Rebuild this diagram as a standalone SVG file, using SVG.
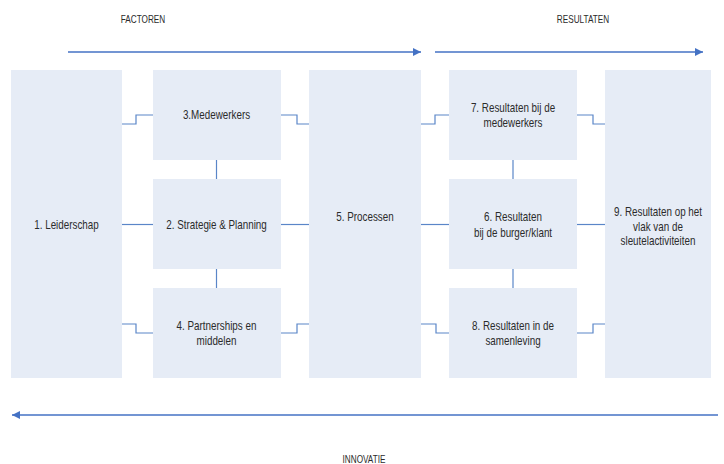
<svg xmlns="http://www.w3.org/2000/svg" width="724" height="464" viewBox="0 0 724 464">
<style>
.box{fill:#E6ECF6;}
.t{font-family:"Liberation Sans",Arial,sans-serif;font-size:12px;fill:#2b2b2b;text-anchor:middle;}
.h{font-family:"Liberation Sans",Arial,sans-serif;font-size:10px;fill:#2b2b2b;text-anchor:middle;}
.c{fill:none;stroke:#5A86C8;stroke-width:1.2;}
.a{fill:none;stroke:#4472C4;stroke-width:1.6;}
</style>
<defs>
<marker id="ah" markerUnits="userSpaceOnUse" markerWidth="9" markerHeight="9" refX="8" refY="4" orient="auto">
<path d="M0,0 L8,4 L0,8 z" fill="#4472C4"/>
</marker>
</defs>
<g id="header-factoren"><text class="h" transform="translate(143,23) scale(0.82,1)">FACTOREN</text></g>
<g id="header-resultaten"><text class="h" transform="translate(583,23) scale(0.82,1)">RESULTATEN</text></g>
<g id="footer-innovatie"><text class="h" transform="translate(364,463) scale(0.82,1)">INNOVATIE</text></g>

<g id="connectors">
<line class="a" x1="68" y1="52" x2="421" y2="52" marker-end="url(#ah)"/>
<line class="a" x1="435" y1="52" x2="703" y2="52" marker-end="url(#ah)"/>
<line class="a" x1="718" y1="415" x2="12" y2="415" marker-end="url(#ah)"/>
<polyline class="c" points="122,124 136,124 136,115 153,115"/>
<polyline class="c" points="281,115 297,115 297,124 309,124"/>
<polyline class="c" points="421,124 435,124 435,115 449,115"/>
<polyline class="c" points="577,115 593,115 593,124 605,124"/>
<line class="c" x1="122" y1="224.5" x2="153" y2="224.5"/>
<line class="c" x1="281" y1="224.5" x2="309" y2="224.5"/>
<line class="c" x1="421" y1="224.5" x2="449" y2="224.5"/>
<line class="c" x1="577" y1="224.5" x2="605" y2="224.5"/>
<polyline class="c" points="122,324 136,324 136,333 153,333"/>
<polyline class="c" points="281,333 297,333 297,324 309,324"/>
<polyline class="c" points="421,324 436,324 436,333 449,333"/>
<polyline class="c" points="577,333 593,333 593,324 605,324"/>
<line class="c" x1="216.5" y1="160" x2="216.5" y2="179"/>
<line class="c" x1="216.5" y1="269" x2="216.5" y2="288"/>
<line class="c" x1="513" y1="160" x2="513" y2="179"/>
<line class="c" x1="513" y1="269" x2="513" y2="288"/>
</g>

<g id="n1"><rect class="box" x="11" y="70" width="111" height="308"/><text class="t" transform="translate(66.5,229) scale(0.82,1)">1. Leiderschap</text></g>
<g id="n3"><rect class="box" x="153" y="70" width="128" height="90"/><text class="t" transform="translate(216.5,119) scale(0.82,1)">3.Medewerkers</text></g>
<g id="n2"><rect class="box" x="153" y="179" width="128" height="90"/><text class="t" transform="translate(216.5,229) scale(0.82,1)">2. Strategie &amp; Planning</text></g>
<g id="n4"><rect class="box" x="153" y="288" width="128" height="90"/><text class="t" transform="translate(216.5,330) scale(0.82,1)">4. Partnerships en</text><text class="t" transform="translate(216.5,345) scale(0.82,1)">middelen</text></g>
<g id="n5"><rect class="box" x="309" y="70" width="112" height="308"/><text class="t" transform="translate(365,221) scale(0.82,1)">5. Processen</text></g>
<g id="n7"><rect class="box" x="449" y="70" width="128" height="90"/><text class="t" transform="translate(513,112) scale(0.82,1)">7. Resultaten bij de</text><text class="t" transform="translate(513,127) scale(0.82,1)">medewerkers</text></g>
<g id="n6"><rect class="box" x="449" y="179" width="128" height="90"/><text class="t" transform="translate(513,221) scale(0.82,1)">6. Resultaten</text><text class="t" transform="translate(513,237) scale(0.82,1)">bij de burger/klant</text></g>
<g id="n8"><rect class="box" x="449" y="288" width="128" height="90"/><text class="t" transform="translate(513,330) scale(0.82,1)">8. Resultaten in de</text><text class="t" transform="translate(513,345) scale(0.82,1)">samenleving</text></g>
<g id="n9"><rect class="box" x="605" y="70" width="106" height="308"/><text class="t" transform="translate(658,216) scale(0.82,1)">9. Resultaten op het</text><text class="t" transform="translate(658,231) scale(0.82,1)">vlak van de</text><text class="t" transform="translate(658,245) scale(0.82,1)">sleutelactiviteiten</text></g>
</svg>
